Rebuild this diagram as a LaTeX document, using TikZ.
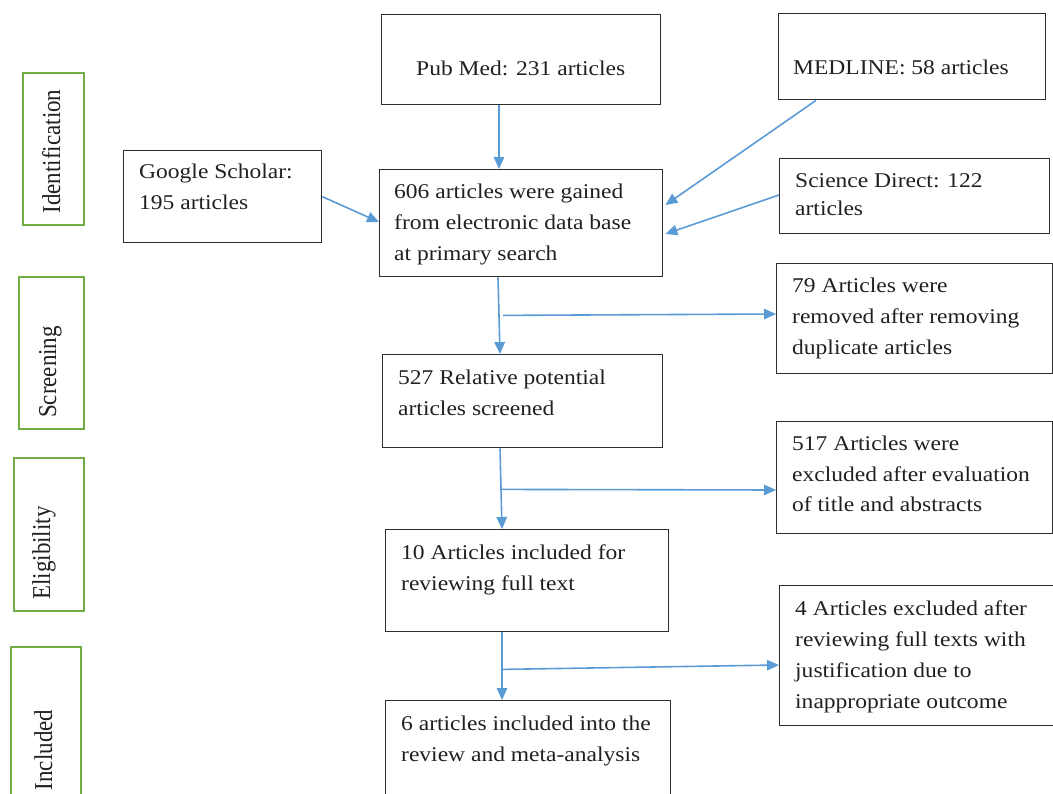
\documentclass[tikz,border=0pt]{standalone}
\usepackage{fontspec}
\setmainfont[FakeStretch=1.12]{Liberation Serif}
\newfontfamily\stagefont{Liberation Serif}
\usetikzlibrary{arrows.meta,calc}
\definecolor{flowblue}{HTML}{5B9BD5}
\definecolor{stagegreen}{HTML}{70AD47}
\definecolor{boxline}{HTML}{2E2E2E}
\definecolor{inktext}{HTML}{231F20}
\newcommand{\stagelabel}[1]{\scalebox{1}[1.12]{#1}}
\begin{document}
\begin{tikzpicture}[x=1pt,y=-1pt,
  box/.style={draw=boxline, line width=1.4pt, inner sep=0pt, anchor=north west},
  stagebox/.style={draw=stagegreen, line width=1.8pt, inner sep=0pt, anchor=north west},
  txt/.style={anchor=base west, inner sep=0pt, text=inktext, font=\fontsize{21}{31}\selectfont},
  stagetxt/.style={inner sep=0pt, rotate=90, anchor=base, text=inktext, font=\stagefont\fontsize{23}{26}\selectfont},
  arr/.style={draw=flowblue, line width=1.6pt, -{Triangle[length=12pt,width=10.5pt]}}]
\useasboundingbox (0,0) rectangle (1053,794);
\clip (0,0) rectangle (1053,794);

% stage boxes
\node[stagebox, minimum width=61pt, minimum height=152pt] (stid) at (22,72) {};
\node[stagebox, minimum width=65pt, minimum height=152pt] (stscr) at (18,276) {};
\node[stagebox, minimum width=70pt, minimum height=153pt] (stel) at (13,457) {};
\node[stagebox, minimum width=70pt, minimum height=170pt] (stinc) at (10,646) {};
\node[stagetxt] (lid) at (60,151.5) {\stagelabel{Identification}};
\node[stagetxt] (lscr) at (56,372) {\stagelabel{Screening}};
\node[stagetxt] (lel) at (50,553) {\stagelabel{Eligibility}};
\node[stagetxt] (linc) at (52,750) {\stagelabel{Included}};

% flow boxes
\node[box, minimum width=279pt, minimum height=90pt] (pub) at (381,14) {};
\node[box, minimum width=267pt, minimum height=86pt] (medline) at (778,13) {};
\node[box, minimum width=198pt, minimum height=92pt] (google) at (123,150) {};
\node[box, minimum width=283pt, minimum height=107pt] (g606) at (379,169) {};
\node[box, minimum width=270pt, minimum height=75pt] (sci) at (779,158) {};
\node[box, minimum width=276pt, minimum height=110pt] (r79) at (776,263) {};
\node[box, minimum width=280pt, minimum height=93pt] (s527) at (382,354) {};
\node[box, minimum width=276pt, minimum height=112pt] (e517) at (776,421) {};
\node[box, minimum width=283pt, minimum height=102pt] (f10) at (385,529) {};
\node[box, minimum width=290pt, minimum height=140pt] (x4) at (779,585) {};
\node[box, minimum width=285pt, minimum height=120pt] (i6) at (385,700) {};

% texts
\node[txt] (tpub) at (416,76) {Pub Med: 231 articles};
\node[txt] (tmed) at (793,75) {MEDLINE: 58 articles};
\node[txt] (tgoo) at (139,179) {\parbox[t]{200pt}{\raggedright Google Scholar:\\195 articles}};
\node[txt] (t606) at (394,199) {\parbox[t]{300pt}{\raggedright 606 articles were gained\\from electronic data base\\at primary search}};
\node[txt] (tsci) at (795,188) {\parbox[t]{300pt}{\raggedright\baselineskip=28pt Science Direct: 122\\articles}};
\node[txt] (t79) at (792,293) {\parbox[t]{300pt}{\raggedright 79 Articles were\\removed after removing\\duplicate articles}};
\node[txt] (t527) at (398,385) {\parbox[t]{300pt}{\raggedright 527 Relative potential\\articles screened}};
\node[txt] (t517) at (792,450) {\parbox[t]{300pt}{\raggedright 517 Articles were\\excluded after evaluation\\of title and abstracts}};
\node[txt] (t10) at (401,559) {\parbox[t]{300pt}{\raggedright 10 Articles included for\\reviewing full text}};
\node[txt] (t4) at (795,615) {\parbox[t]{300pt}{\raggedright 4 Articles excluded after\\reviewing full texts with\\justification due to\\inappropriate outcome}};
\node[txt] (t6) at (401,730) {\parbox[t]{300pt}{\raggedright 6 articles included into the\\review and meta-analysis}};

% branch points
\coordinate (b1) at ($(g606.south west)+(124,38)$);
\coordinate (b2) at ($(s527.south west)+(118,41)$);
\coordinate (b3) at ($(f10.south west)+(117,37)$);

% connectors
\draw[arr] ($(pub.south west)+(118,0)$) -- ($(g606.north west)+(120,0)$);
\draw[arr] ($(medline.south west)+(38,0)$) -- ($(g606.north east)+(2,36)$);
\draw[arr] ($(sci.north west)+(0,37)$) -- ($(g606.north east)+(2,65)$);
\draw[arr] (google.east) -- ($(g606.north west)+(0,53)$);
\draw[arr] ($(g606.south west)+(119,0)$) -- ($(s527.north west)+(118,0)$);
\draw[arr] (b1) -- ($(r79.north west)+(0,51)$);
\draw[arr] ($(s527.south west)+(118,0)$) -- ($(f10.north west)+(117,0)$);
\draw[arr] (b2) -- ($(e517.north west)+(0,69)$);
\draw[arr] ($(f10.south west)+(117,0)$) -- ($(i6.north west)+(117,0)$);
\draw[arr] (b3) -- ($(x4.north west)+(0,80)$);
\end{tikzpicture}
\end{document}
